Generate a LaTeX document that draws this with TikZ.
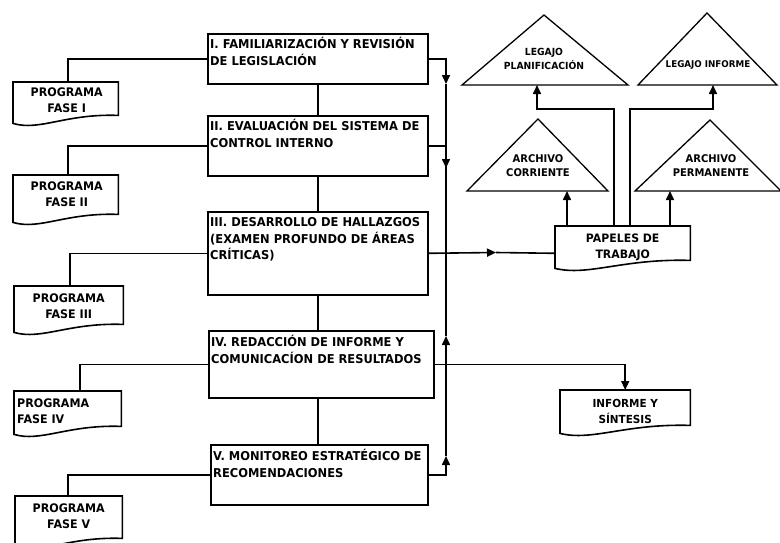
\documentclass[tikz,border=0pt]{standalone}
\usepackage{fontspec}
\setmainfont{DejaVu Sans}[FakeStretch=0.94]
\usetikzlibrary{arrows.meta,calc}
\newcommand\myfs[2]{\fontsize{#1}{#2}\selectfont\bfseries}
\newcommand\docoutline[1]{%
  \draw[lnw] (#1.south west) -- (#1.north west) -- (#1.north east) -- ($(#1.south east)+(0,-8)$)
    .. controls ($(#1.south east)!0.5!(#1.south west)+(0,-10)$) and ($(#1.south west)!0.25!(#1.south east)+(0,8)$) .. (#1.south west) -- cycle;}
\tikzset{
  lnw/.style={line width=1.6pt, line join=miter},
  phase/.style={draw, lnw, anchor=north west, inner sep=0pt},
  phtext/.style={anchor=north west, inner sep=0pt, align=left, font=\myfs{12.2}{16.8}},
  docbox/.style={anchor=north west, inner sep=0pt},
  doctext/.style={anchor=north, inner sep=0pt, align=center, font=\myfs{11.8}{16}},
  tip/.style={-{Triangle[length=9pt,width=8pt]}},
}
\begin{document}
\begin{tikzpicture}[x=1pt,y=-1pt]
\useasboundingbox (0,0) rectangle (780,542);
\clip (0,0) rectangle (780,542);

% phase boxes
\node[phase, minimum width=220pt, minimum height=50pt] (b1) at (207,33) {};
\node[phase, minimum width=220pt, minimum height=60pt] (b2) at (207,115) {};
\node[phase, minimum width=220pt, minimum height=83pt] (b3) at (207,211) {};
\node[phase, minimum width=225pt, minimum height=67pt] (b4) at (208,330) {};
\node[phase, minimum width=217pt, minimum height=60pt] (b5) at (210,444) {};

\node[phtext] (b1t) at ($(b1.north west)+(3,2)$) {\rule{0pt}{13pt}I. FAMILIARIZACIÓN Y REVISIÓN\\DE LEGISLACIÓN};
\node[phtext] (b2t) at ($(b2.north west)+(3,2)$) {\rule{0pt}{13pt}II. EVALUACIÓN DEL SISTEMA DE\\CONTROL INTERNO};
\node[phtext] (b3t) at ($(b3.north west)+(3,2)$) {\rule{0pt}{13pt}III. DESARROLLO DE HALLAZGOS\\(EXAMEN PROFUNDO DE ÁREAS\\CRÍTICAS)};
\node[phtext] (b4t) at ($(b4.north west)+(3,3)$) {\rule{0pt}{13pt}IV. REDACCIÓN DE INFORME Y\\COMUNICACÍON DE RESULTADOS};
\node[phtext] (b5t) at ($(b5.north west)+(3,3)$) {\rule{0pt}{13pt}V. MONITOREO ESTRATÉGICO DE\\RECOMENDACIONES};

% programa documents
\node[docbox, minimum width=105pt, minimum height=41pt] (d1) at (13,82) {};
\node[docbox, minimum width=105pt, minimum height=47pt] (d2) at (13,175) {};
\node[docbox, minimum width=109pt, minimum height=46pt] (d3) at (14,286) {};
\node[docbox, minimum width=107pt, minimum height=43pt] (d4) at (14,391) {};
\node[docbox, minimum width=107pt, minimum height=50pt] (d5) at (15,496) {};
\docoutline{d1}\docoutline{d2}\docoutline{d3}\docoutline{d4}\docoutline{d5}

\node[doctext] (d1t) at ($(d1.north)+(1,1)$) {\rule{0pt}{13pt}PROGRAMA\\FASE I};
\node[doctext] (d2t) at ($(d2.north)+(1,2)$) {\rule{0pt}{13pt}PROGRAMA\\FASE II};
\node[doctext] (d3t) at ($(d3.north)+(0,3)$) {\rule{0pt}{13pt}PROGRAMA\\FASE III};
\node[doctext, anchor=north west, align=left] (d4t) at ($(d4.north west)+(3,3)$) {\rule{0pt}{13pt}PROGRAMA\\FASE IV};
\node[doctext] (d5t) at ($(d5.north)+(0,3)$) {\rule{0pt}{13pt}PROGRAMA\\FASE V};

% papeles & informe documents
\node[docbox, minimum width=135pt, minimum height=42pt] (pap) at (555,226) {};
\node[docbox, minimum width=130pt, minimum height=43pt] (inf) at (560,390) {};
\docoutline{pap}\docoutline{inf}
\node[doctext, font=\myfs{11.6}{16}] (papt) at ($(pap.north)+(0,3)$) {\rule{0pt}{13pt}PAPELES DE\\TRABAJO};
\node[doctext, font=\myfs{11.1}{16}] (inft) at ($(inf.north)+(0,4)$) {\rule{0pt}{13pt}INFORME Y\\SÍNTESIS};

% triangles
\draw[lnw, line width=1.3pt] (462,85) -- (544,15) -- (628,85) -- cycle;
\draw[lnw, line width=1.3pt] (638,85) -- (707,13) -- (777,85) -- cycle;
\draw[lnw, line width=1.3pt] (467,191) -- (538,119) -- (608,191) -- cycle;
\draw[lnw, line width=1.3pt] (635,191) -- (710,120) -- (781,191) -- cycle;
\node[doctext, font=\myfs{9.8}{14}] (lpt) at (544,45) {\rule{0pt}{10.5pt}LEGAJO\\PLANIFICACIÓN};
\node[doctext, font=\myfs{9.3}{14}] (lit) at (708,57) {\rule{0pt}{10.5pt}LEGAJO INFORME};
\node[doctext, font=\myfs{10.6}{14.5}] (act) at (538,151) {\rule{0pt}{11pt}ARCHIVO\\CORRIENTE};
\node[doctext, font=\myfs{10.6}{14.5}] (apt) at (711,151) {\rule{0pt}{11pt}ARCHIVO\\PERMANENTE};
\coordinate (lpb) at (537,85);
\coordinate (lib) at (713,85);
\coordinate (acb) at (567,191);
\coordinate (apb) at (670,191);

% vertical chain
\draw[lnw] (b1.south) -- (b1.south |- b2.north);
\draw[lnw] (b2.south) -- (b2.south |- b3.north);
\draw[lnw] (b3.south) -- (b3.south |- b4.north);
\draw[lnw] (b3.south |- b4.south) -- (b3.south |- b5.north);

% left connectors
\draw[lnw] (b1.west) -| ($(d1.north west)+(55,0)$);
\draw[lnw] (b2.west) -| ($(d2.north west)+(55,0)$);
\draw[lnw] (b3.west) -| ($(d3.north west)+(56,0)$);
\draw[lnw] (b4.west) -| ($(d4.north west)+(66,0)$);
\draw[lnw] (b5.west) -| ($(d5.north west)+(53,0)$);

% right bus
\coordinate (bus) at (446,0);
\coordinate (a1) at (446,84);
\coordinate (a2) at (446,168);
\coordinate (a3) at (446,336);
\coordinate (a4) at (446,456);
\coordinate (a5) at (496,252.5);
\draw[lnw, tip] (b1.east) -| (a1);
\draw[lnw] (a1) -- (b3.east -| bus);
\draw[lnw, tip] (b2.east) -| (a2);
\draw[lnw, tip] (b4.east -| bus) -- (a3);
\draw[lnw] (a3) -- (b3.east -| bus);
\draw[lnw, tip] (b5.east) -| (a4);
\draw[lnw] (a4) -- (b4.east -| bus);
\draw[lnw, tip] (b4.east) -| (inf.north);
\draw[lnw, tip] (b3.east) -- (a5);
\draw[lnw] (a5) -- (b3.east -| pap.west);

% papeles outputs
\coordinate (s1) at (614,109);
\coordinate (s2) at (630,109);
\draw[lnw, tip] (acb |- pap.north) -- (acb);
\draw[lnw, tip] (apb |- pap.north) -- (apb);
\draw[lnw, tip] (s1 |- pap.north) -- (s1) -| (lpb);
\draw[lnw, tip] (s2 |- pap.north) -- (s2) -| (lib);
\end{tikzpicture}
\end{document}
